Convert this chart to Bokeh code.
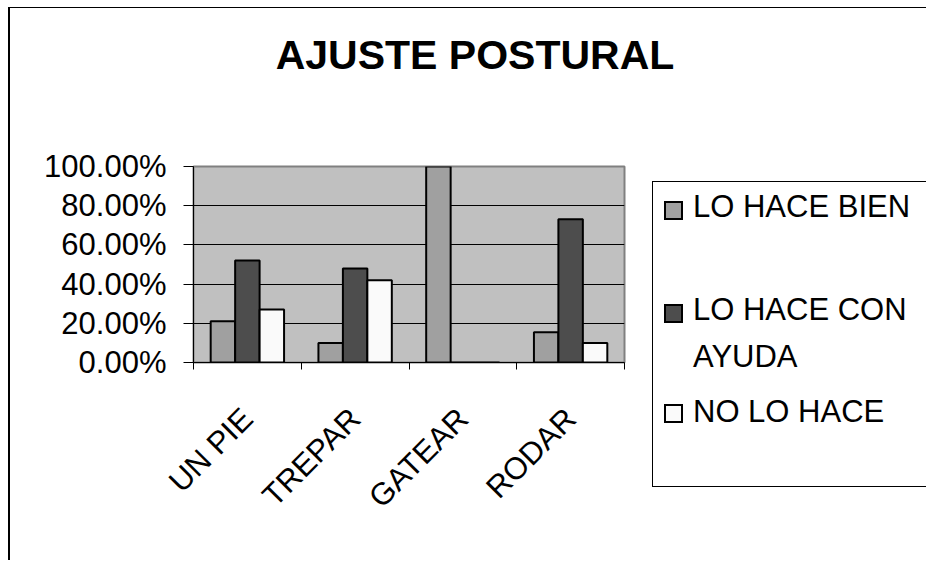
import math
from bokeh.plotting import figure
from bokeh.layouts import column, row
from bokeh.models import (FactorRange, Range1d, LinearAxis, CategoricalAxis, FixedTicker,
                          PrintfTickFormatter, ColumnDataSource, Div)
from bokeh.transform import dodge
from bokeh.embed import file_html
from bokeh.resources import INLINE

# ---- data ----
categories = ["UN PIE", "TREPAR", "GATEAR", "RODAR"]
lo_hace_bien = [21.0, 10.0, 100.0, 15.4]
lo_hace_con_ayuda = [52.0, 48.0, 0.0, 73.1]
no_lo_hace = [27.0, 42.0, 0.0, 10.0]
series_names = ["LO HACE BIEN", "LO HACE CON", "AYUDA", "NO LO HACE"]
y_ticks = [0, 20, 40, 60, 80, 100]
title_text = "AJUSTE POSTURAL"

FONT = "Liberation Sans"
C_BIEN, C_AYUDA, C_NO = "#A0A0A0", "#4D4D4D", "#FAFAFA"

# ---- title ----
title_div = Div(
    text=('<div style="width:900px;margin-left:15px;padding-top:27px;text-align:center;'
          'font-family:\'Liberation Sans\';font-weight:bold;font-size:41px;'
          'line-height:41px;color:#000;">%s</div>' % title_text),
    width=916, height=100, margin=0)

# ---- main chart ----
p = figure(width=630, height=452,
           x_range=FactorRange(*categories, range_padding=0),
           y_range=Range1d(0, 100),
           output_backend="svg", toolbar_location=None,
           x_axis_location=None, y_axis_location="left",
           min_border_left=183, min_border_right=16,
           min_border_top=58, min_border_bottom=198)

p.background_fill_color = "#C0C0C0"
p.border_fill_color = "white"
p.outline_line_color = "#808080"
p.outline_line_width = 2

ya = p.yaxis[0]
ya.ticker = FixedTicker(ticks=y_ticks)
ya.formatter = PrintfTickFormatter(format="%.2f%%")
ya.major_tick_out = 10
ya.major_tick_in = 0
ya.minor_tick_line_color = None
ya.axis_line_color = "black"
ya.major_tick_line_color = "black"
ya.major_label_text_font = FONT
ya.major_label_text_font_size = "31px"
ya.major_label_text_color = "black"
ya.major_label_standoff = 17

p.ygrid.ticker = FixedTicker(ticks=y_ticks[1:-1])
p.ygrid.grid_line_color = "black"
p.ygrid.grid_line_width = 1
for g in p.xgrid:
    g.visible = False

# tick marks on category edges (synthetic coords), labels on centres
tick_axis = LinearAxis(ticker=FixedTicker(ticks=list(range(len(categories) + 1))),
                       major_tick_out=7, major_tick_in=0,
                       minor_tick_line_color=None,
                       axis_line_color="black", major_tick_line_color="black",
                       major_label_text_font_size="1px", major_label_text_color=None,
                       major_label_standoff=0)
p.add_layout(tick_axis, "below")

cat_axis = CategoricalAxis(major_tick_line_color=None, axis_line_color=None,
                           minor_tick_line_color=None,
                           major_label_orientation=math.pi / 4,
                           major_label_standoff=38,
                           major_label_text_font=FONT,
                           major_label_text_font_size="31px",
                           major_label_text_color="black")
p.add_layout(cat_axis, "below")

src = ColumnDataSource(dict(cat=categories, bien=lo_hace_bien,
                            ayuda=lo_hace_con_ayuda, no=no_lo_hace))
w = 0.227
p.vbar(x=dodge("cat", -w, range=p.x_range), top="bien", width=w, source=src,
       fill_color=C_BIEN, line_color="black", line_width=2)
p.vbar(x=dodge("cat", 0, range=p.x_range), top="ayuda", width=w, source=src,
       fill_color=C_AYUDA, line_color="black", line_width=2)
p.vbar(x=dodge("cat", w, range=p.x_range), top="no", width=w, source=src,
       fill_color=C_NO, line_color="black", line_width=2)

# ---- legend (HTML, real text) ----
def swatch(color, top):
    return ('<div style="position:absolute;left:11px;top:%dpx;width:19px;height:19px;'
            'box-sizing:border-box;border:2px solid #000;background:%s;"></div>' % (top, color))

def label(text, top):
    return ('<div style="position:absolute;left:40px;top:%dpx;white-space:nowrap;'
            'font-family:\'Liberation Sans\';font-size:31px;line-height:31px;color:#000;">%s</div>'
            % (top, text))

legend_html = (
    '<div style="position:relative;width:286px;height:452px;">'
    '<div style="position:absolute;left:12px;top:73px;width:274px;height:306px;'
    'box-sizing:border-box;border:1px solid #000;border-right:none;background:#fff;">'
    + swatch(C_BIEN, 19) + label(series_names[0], 9)
    + swatch(C_AYUDA, 122) + label(series_names[1], 112)
    + label(series_names[2], 159)
    + swatch(C_NO, 222) + label(series_names[3], 214)
    + '</div></div>')
legend_div = Div(text=legend_html, width=286, height=452, margin=0)

layout = column(title_div, row(p, legend_div, spacing=0), spacing=0)
layout.styles = {"margin-left": "8px", "margin-top": "7px",
                 "border-left": "2px solid black", "border-top": "1px solid black"}

open("out.html", "w").write(file_html(layout, INLINE))
